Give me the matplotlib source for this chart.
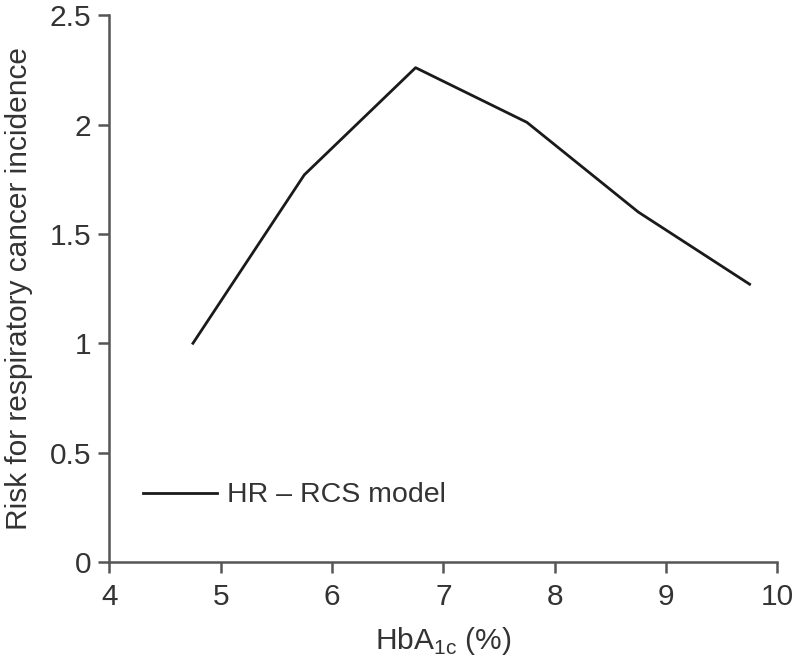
import matplotlib
matplotlib.use("Agg")
import matplotlib.pyplot as plt

hba1c = [4.75, 5.75, 6.75, 7.75, 8.75, 9.75]
risk = [1.0, 1.77, 2.26, 2.01, 1.60, 1.27]
x_ticks = [4, 5, 6, 7, 8, 9, 10]
x_tick_labels = ["4", "5", "6", "7", "8", "9", "10"]
y_ticks = [0, 0.5, 1, 1.5, 2, 2.5]
y_tick_labels = ["0", "0.5", "1", "1.5", "2", "2.5"]

plt.rcParams['font.family'] = ['Liberation Sans', 'DejaVu Sans']
plt.rcParams['mathtext.fontset'] = 'custom'
plt.rcParams['mathtext.rm'] = 'Liberation Sans'

fig = plt.figure(figsize=(7.99, 6.60), dpi=100)
ax = fig.add_axes([0.137, 0.1485, 0.836, 0.8285])
ax.plot(hba1c, risk, color='#1a1a1a', lw=2, label='HR – RCS model')
ax.set_xlim(4, 10)
ax.set_ylim(0, 2.5)
ax.set_xticks(x_ticks)
ax.set_xticklabels(x_tick_labels)
ax.set_yticks(y_ticks)
ax.set_yticklabels(y_tick_labels)
for s in ['top', 'right']:
    ax.spines[s].set_visible(False)
for s in ['left', 'bottom']:
    ax.spines[s].set_color('#555555')
    ax.spines[s].set_linewidth(1.8)
ax.tick_params(direction='out', length=8, width=1.8, color='#555555',
               labelsize=21.5, labelcolor='#333333', pad=5)
ax.tick_params(axis='x', pad=7)
ax.set_xlabel(r'HbA$_{\mathrm{1c}}$ (%)', fontsize=21.5, color='#333333', labelpad=10)
ax.set_ylabel('Risk for respiratory cancer incidence', fontsize=21.5, color='#333333', labelpad=12)
ax.legend(loc='lower left', bbox_to_anchor=(0.012, 0.051), frameon=False,
          fontsize=20.5, handlelength=2.6, handletextpad=0.35, labelcolor='#333333')
fig.savefig('out.png', dpi=100)
